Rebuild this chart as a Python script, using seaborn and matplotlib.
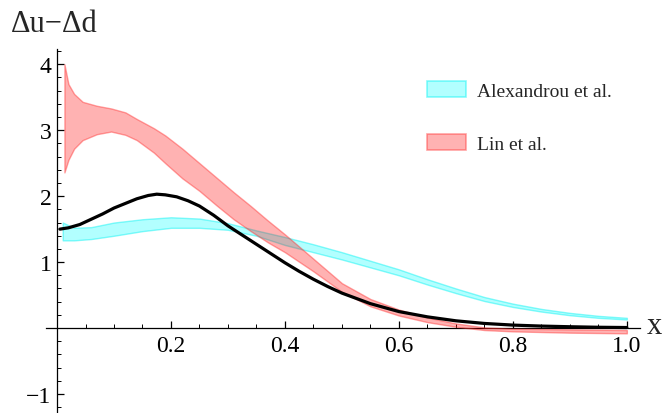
import matplotlib
matplotlib.use("Agg")
import matplotlib.pyplot as plt
from matplotlib.patches import Patch
from matplotlib.ticker import MultipleLocator, FixedLocator, FuncFormatter
import seaborn as sns
import pandas as pd

# black curve
x_black = [0.005, 0.02, 0.04, 0.06, 0.08, 0.10, 0.12, 0.14, 0.16, 0.175, 0.19, 0.21,
           0.23, 0.25, 0.275, 0.30, 0.325, 0.35, 0.375, 0.40, 0.425, 0.45, 0.475,
           0.50, 0.55, 0.60, 0.65, 0.70, 0.75, 0.80, 0.85, 0.90, 0.95, 1.00]
y_black = [1.50, 1.52, 1.57, 1.65, 1.73, 1.82, 1.89, 1.96, 2.01, 2.03, 2.02, 1.99,
           1.93, 1.85, 1.71, 1.55, 1.41, 1.27, 1.13, 0.99, 0.86, 0.74, 0.63,
           0.53, 0.37, 0.25, 0.17, 0.11, 0.07, 0.045, 0.03, 0.02, 0.012, 0.008]

# Alexandrou et al. band
x_alex = [0.01, 0.03, 0.06, 0.10, 0.15, 0.20, 0.25, 0.30, 0.35, 0.40, 0.45, 0.50,
          0.55, 0.60, 0.65, 0.70, 0.75, 0.80, 0.85, 0.90, 0.95, 1.00]
alex_lo = [1.33, 1.33, 1.35, 1.40, 1.47, 1.52, 1.52, 1.49, 1.40, 1.26, 1.15, 1.04,
           0.92, 0.80, 0.66, 0.53, 0.41, 0.32, 0.25, 0.195, 0.155, 0.13]
alex_hi = [1.60, 1.52, 1.53, 1.60, 1.65, 1.68, 1.66, 1.59, 1.48, 1.38, 1.27, 1.15,
           1.02, 0.89, 0.74, 0.60, 0.47, 0.37, 0.29, 0.23, 0.185, 0.155]

# Lin et al. band
x_lin = [0.013, 0.02, 0.03, 0.045, 0.07, 0.095, 0.12, 0.14, 0.17, 0.19, 0.22, 0.25,
         0.28, 0.31, 0.34, 0.37, 0.40, 0.45, 0.50, 0.55, 0.60, 0.65, 0.70, 0.75,
         0.80, 0.90, 1.00]
lin_lo = [2.36, 2.55, 2.72, 2.85, 2.94, 2.98, 2.93, 2.85, 2.66, 2.50, 2.27, 2.08,
          1.86, 1.65, 1.47, 1.30, 1.15, 0.86, 0.55, 0.33, 0.19, 0.09, 0.02, -0.03,
          -0.05, -0.07, -0.08]
lin_hi = [4.00, 3.70, 3.55, 3.43, 3.37, 3.33, 3.27, 3.17, 3.03, 2.92, 2.72, 2.50,
          2.28, 2.06, 1.85, 1.63, 1.42, 1.05, 0.68, 0.44, 0.28, 0.16, 0.07, 0.01,
          -0.01, -0.02, -0.03]

labels = ["Alexandrou et al.", "Lin et al."]
x_ticks = [0.2, 0.4, 0.6, 0.8, 1.0]
y_ticks = [-1, 1, 2, 3, 4]

sns.set_style("white")
plt.rcParams['font.family'] = ['Liberation Serif', 'DejaVu Serif']

fig = plt.figure(figsize=(6.68, 4.14), dpi=100)
ax = fig.add_axes([0.0683, 0.0, 0.8897, 0.879])

cyan_face = (0.0, 1.0, 1.0, 0.3)
cyan_edge = (0.0, 0.95, 0.95, 0.45)
red_face = (1.0, 0.0, 0.0, 0.3)
red_edge = (1.0, 0.2, 0.2, 0.45)

ax.fill_between(x_alex, alex_lo, alex_hi, facecolor=cyan_face, edgecolor=cyan_edge,
                linewidth=1.0, zorder=2)
ax.fill_between(x_lin, lin_lo, lin_hi, facecolor=red_face, edgecolor=red_edge,
                linewidth=1.0, zorder=3)

df = pd.DataFrame({"x": x_black, "y": y_black})
sns.lineplot(data=df, x="x", y="y", color="black", linewidth=2.3, ax=ax, zorder=4)

ax.set_xlim(-0.02, 1.023)
ax.set_ylim(-1.288, 4.23)

for s in ["top", "right"]:
    ax.spines[s].set_visible(False)
ax.spines["left"].set_position(("data", 0))
ax.spines["bottom"].set_position(("data", 0))
for s in ["left", "bottom"]:
    ax.spines[s].set_color("black")
    ax.spines[s].set_linewidth(0.9)

ax.xaxis.set_major_locator(FixedLocator(x_ticks))
ax.xaxis.set_minor_locator(MultipleLocator(0.05))
ax.yaxis.set_major_locator(FixedLocator(y_ticks))
ax.yaxis.set_minor_locator(MultipleLocator(0.2))
ax.xaxis.set_major_formatter(FuncFormatter(lambda v, p: f"{v:.1f}"))
ax.yaxis.set_major_formatter(FuncFormatter(lambda v, p: f"{int(v)}".replace("-", "\u2212")))
ax.tick_params(axis="both", which="major", direction="in", length=5, width=0.9,
               labelsize=17, colors="black", bottom=True, left=True)
ax.tick_params(axis="both", which="minor", direction="in", length=3, width=0.7,
               bottom=True, left=True, colors="black")
ax.tick_params(axis="x", which="major", pad=5)
ax.tick_params(axis="y", which="major", pad=4)
ax.set_xlabel("")
ax.set_ylabel("")
ax.grid(False)

fig.text(0.016, 1 - 24 / 414, "\u0394u\u2212\u0394d", fontsize=22, va="center", ha="left")
fig.text(647 / 668, 1 - 327 / 414, "x", fontsize=22, va="center", ha="left")

handles = [Patch(facecolor=cyan_face, edgecolor=cyan_edge, linewidth=1.2),
           Patch(facecolor=red_face, edgecolor=red_edge, linewidth=1.2)]
leg = fig.legend(handles, labels, loc="upper left", bbox_to_anchor=(427 / 668, 1 - 82 / 414),
                 frameon=False, fontsize=14, handlelength=2.0, handleheight=0.9,
                 handletextpad=0.55, labelspacing=1.75, borderaxespad=0, borderpad=0)

fig.savefig("out.png", dpi=100)
